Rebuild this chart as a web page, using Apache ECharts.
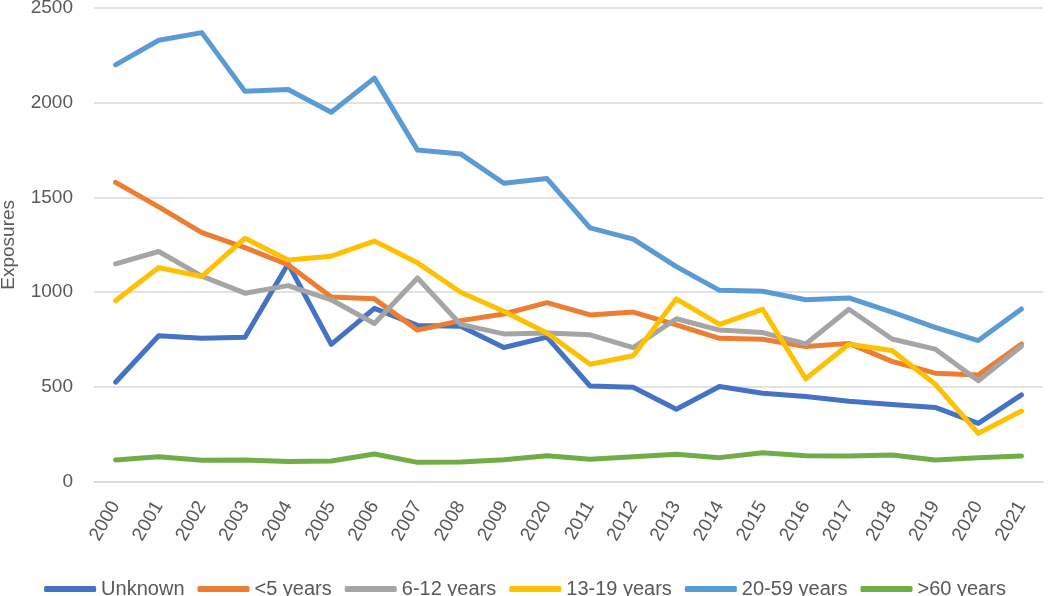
<!DOCTYPE html>
<html>
<head>
<meta charset="utf-8">
<script src="https://cdn.jsdelivr.net/npm/echarts@6/dist/echarts.min.js"></script>
<style>html,body{margin:0;padding:0;background:#fff}#c{width:1050px;height:596px}</style>
</head>
<body>
<div id="c"></div>
<script>
const categories = ['2000','2001','2002','2003','2004','2005','2006','2007','2008','2009','2020','2011','2012','2013','2014','2015','2016','2017','2018','2019','2020','2021'];
const unknown   = [525,770,757,762,1150,725,915,825,820,708,763,505,498,382,502,467,450,425,408,392,308,458];
const under5    = [1580,1450,1315,1235,1145,975,965,800,850,885,945,880,895,828,757,752,713,730,635,573,563,727];
const y6to12    = [1150,1215,1085,995,1035,960,835,1075,830,780,785,775,708,860,800,787,727,910,753,700,533,715];
const y13to19   = [955,1130,1083,1285,1170,1190,1270,1155,1000,900,785,620,665,965,830,910,543,725,692,515,255,373];
const y20to59   = [2200,2330,2370,2060,2070,1950,2130,1750,1730,1575,1600,1340,1280,1135,1010,1005,960,970,895,815,745,912];
const over60    = [115,132,113,115,106,109,146,102,104,116,137,118,132,145,127,153,137,136,141,115,127,136];
const yTicks = {min:0, max:2500, interval:500};

const names = ['Unknown','<5 years','6-12 years','13-19 years','20-59 years','>60 years'];
const colors = ['#4472C4','#ED7D31','#A5A5A5','#FFC000','#5B9BD5','#70AD47'];
const datas = [unknown, under5, y6to12, y13to19, y20to59, over60];
const font = 'Liberation Sans, Arial, sans-serif';
const txt = '#595959';

const chart = echarts.init(document.getElementById('c'), null, {renderer:'canvas'});
chart.setOption({
  animation:false,
  backgroundColor:'#fff',
  grid:{left:94, right:7, top:8, bottom:114.3, containLabel:false, outerBoundsMode:'none'},
  legend:{
    data:names, top:574, left:'center', itemGap:13, itemWidth:52, itemHeight:6,
    icon:'roundRect',
    textStyle:{fontFamily:font, fontSize:20, color:txt}
  },
  xAxis:{
    type:'category', data:categories, boundaryGap:true,
    axisLine:{show:true, lineStyle:{color:'#d9d9d9', width:1.5}},
    axisTick:{show:false},
    axisLabel:{rotate:60, margin:21, fontFamily:font, fontSize:19, color:txt, interval:0}
  },
  yAxis:{
    type:'value', min:yTicks.min, max:yTicks.max, interval:yTicks.interval,
    name:'Exposures', nameLocation:'middle', nameGap:76, nameRotate:90,
    nameTextStyle:{fontFamily:font, fontSize:19, color:txt},
    axisLine:{show:false}, axisTick:{show:false},
    axisLabel:{margin:21, fontFamily:font, fontSize:19, color:txt, formatter:v=>String(v)},
    splitLine:{lineStyle:{color:'#d9d9d9', width:1.5}}
  },
  series: names.map((n,i)=>({
    name:n, type:'line', data:datas[i], showSymbol:false, symbol:'none',
    lineStyle:{color:colors[i], width:5, cap:'round', join:'round'},
    itemStyle:{color:colors[i]}
  }))
});
</script>
</body>
</html>
